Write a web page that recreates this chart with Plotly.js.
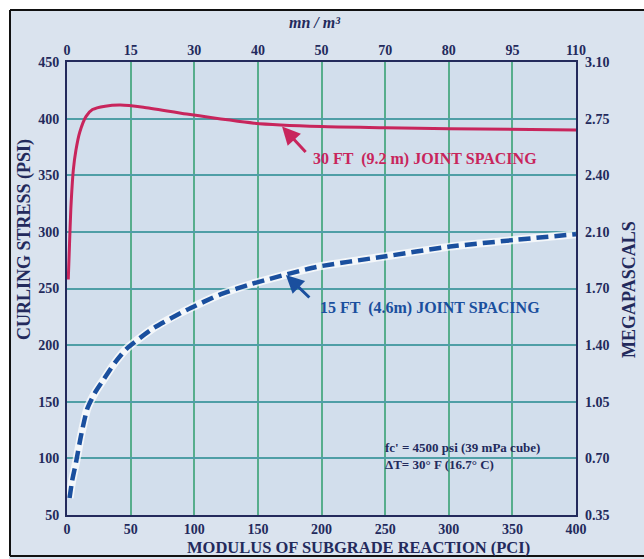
<!DOCTYPE html>
<html>
<head>
<meta charset="utf-8">
<script src="https://cdn.plot.ly/plotly-3.0.1.min.js"></script>
<style>html,body{margin:0;padding:0;background:#fff;}#chart{width:644px;height:559px;}</style>
</head>
<body>
<div id="chart"></div>
<script>
// ---- data ----
const moduliTicks = [0, 50, 100, 150, 200, 250, 300, 350, 400];
const topTickLabels = ['0', '15', '30', '40', '50', '70', '80', '95', '110'];
const stressTicks = [50, 100, 150, 200, 250, 300, 350, 400, 450];
const mpaTickLabels = ['0.35', '0.70', '1.05', '1.40', '1.70', '2.10', '2.40', '2.75', '3.10'];

const spacing30ftX = [1, 2, 3, 5, 7, 10, 15, 20, 30, 42, 60, 94, 147, 200, 250, 300, 400];
const spacing30ftY = [258, 290, 320, 355, 372, 388, 402, 408, 411, 412, 410, 404, 396, 393, 392, 391, 390];

const spacing15ftX = [2, 4, 7, 11, 16, 22, 29, 38, 47, 68, 94, 121, 145, 196, 248, 301, 353, 400];
const spacing15ftY = [65, 80, 96, 120, 144, 158, 170, 185, 197, 215, 231, 245, 254, 269, 278, 287, 293, 298];

// ---- style ----
const navy = '#232a5c';
const red = '#c8255c';
const blue = '#1a4f9e';
const serif = 'Liberation Serif, Times New Roman, serif';
const tickFont = {family: serif, size: 14, color: navy, weight: 'bold'};

const traces = [
  {x: spacing30ftX, y: spacing30ftY, type: 'scatter', mode: 'lines',
   line: {color: red, width: 3, shape: 'spline', smoothing: 0.6},
   hoverinfo: 'skip', showlegend: false, xaxis: 'x', yaxis: 'y'},
  {x: spacing15ftX, y: spacing15ftY, type: 'scatter', mode: 'lines',
   line: {color: 'rgba(255,255,255,0.75)', width: 8, shape: 'spline', smoothing: 0.6},
   hoverinfo: 'skip', showlegend: false, xaxis: 'x2', yaxis: 'y2'},
  {x: spacing15ftX, y: spacing15ftY, type: 'scatter', mode: 'lines',
   line: {color: blue, width: 4.5, dash: '12px,6px', shape: 'spline', smoothing: 0.6},
   hoverinfo: 'skip', showlegend: false, xaxis: 'x2', yaxis: 'y2'}
];

const px2x = p => (p - 67) / 509;
const px2y = p => (515 - p) / 453;
const paperText = (text, x, y, size, extra) => Object.assign({
  text: text, xref: 'paper', yref: 'paper', x: px2x(x), y: px2y(y),
  xanchor: 'center', yanchor: 'middle', showarrow: false,
  font: {family: serif, size: size, color: navy, weight: 'bold'}
}, extra || {});

const layout = {
  width: 644, height: 559,
  margin: {l: 67, r: 68, t: 62, b: 44, pad: 0},
  paper_bgcolor: '#dae3ee',
  plot_bgcolor: '#d2deec',
  showlegend: false,
  xaxis: {
    range: [0, 400], tickvals: moduliTicks, ticks: '', ticklabelstandoff: 0,
    showgrid: true, gridcolor: '#57ad8c', gridwidth: 2,
    showline: true, linecolor: navy, linewidth: 2, mirror: true,
    zeroline: false, tickfont: tickFont, fixedrange: true
  },
  yaxis: {
    range: [50, 450], tickvals: stressTicks, ticks: '', ticklabelstandoff: 3,
    showgrid: true, gridcolor: '#4f9ea6', gridwidth: 2,
    showline: true, linecolor: navy, linewidth: 2, mirror: true,
    zeroline: false, tickfont: tickFont, fixedrange: true
  },
  xaxis2: {
    overlaying: 'x', side: 'top', range: [0, 400], tickvals: moduliTicks, ticktext: topTickLabels,
    ticks: '', ticklabelstandoff: 3, showgrid: false, showline: false, zeroline: false,
    tickfont: tickFont, fixedrange: true
  },
  yaxis2: {
    overlaying: 'y', side: 'right', range: [50, 450], tickvals: stressTicks, ticktext: mpaTickLabels,
    ticks: '', ticklabelstandoff: 8, showgrid: false, showline: false, zeroline: false,
    tickfont: tickFont, fixedrange: true
  },
  shapes: [
    {type: 'rect', xref: 'paper', yref: 'paper', x0: px2x(-5), x1: px2x(9), y0: px2y(600), y1: px2y(-5),
     fillcolor: '#ffffff', line: {width: 0}, layer: 'above'},
    {type: 'rect', xref: 'paper', yref: 'paper', x0: px2x(-5), x1: px2x(650), y0: px2y(10), y1: px2y(-5),
     fillcolor: '#ffffff', line: {width: 0}, layer: 'above'},
    {type: 'line', xref: 'paper', yref: 'paper', x0: px2x(10), x1: px2x(10), y0: px2y(556), y1: px2y(10),
     line: {color: '#111', width: 2}, layer: 'above'},
    {type: 'line', xref: 'paper', yref: 'paper', x0: px2x(10), x1: px2x(650), y0: px2y(10), y1: px2y(10),
     line: {color: '#111', width: 2}, layer: 'above'},
    {type: 'line', xref: 'paper', yref: 'paper', x0: px2x(10), x1: px2x(650), y0: px2y(556), y1: px2y(556),
     line: {color: '#111', width: 2}, layer: 'above'}
  ],
  annotations: [
    paperText('<i>mn / m³</i>', 314, 22, 16),
    paperText('CURLING STRESS (PSI)', 24, 240, 18, {textangle: -90}),
    paperText('MEGAPASCALS', 629, 290, 18, {textangle: -90}),
    paperText('MODULUS OF SUBGRADE REACTION (PCI)', 358, 547, 16.5),
    paperText("fc' = 4500 psi (39 mPa cube)", 383, 447, 13, {xanchor: 'left'}),
    paperText('ΔT= 30° F (16.7° C)', 383, 464, 13, {xanchor: 'left'}),
    {text: '30 FT  (9.2 m) JOINT SPACING', x: 192, y: 364, xanchor: 'left', yanchor: 'middle', showarrow: false,
     font: {family: serif, size: 16, color: red, weight: 'bold'}},
    {text: '', x: 169, y: 393, ax: 25, ay: 27, showarrow: true, arrowhead: 2, arrowsize: 1.2,
     arrowwidth: 3, arrowcolor: red, standoff: 0},
    {text: '15 FT  (4.6m) JOINT SPACING', x: 197, y: 233, xanchor: 'left', yanchor: 'middle', showarrow: false,
     font: {family: serif, size: 16, color: blue, weight: 'bold'}},
    {text: '', x: 172, y: 262, ax: 25, ay: 24, showarrow: true, arrowhead: 2, arrowsize: 1.2,
     arrowwidth: 3, arrowcolor: blue, standoff: 0}
  ]
};

Plotly.newPlot('chart', traces, layout, {displayModeBar: false, staticPlot: true});
</script>
</body>
</html>
